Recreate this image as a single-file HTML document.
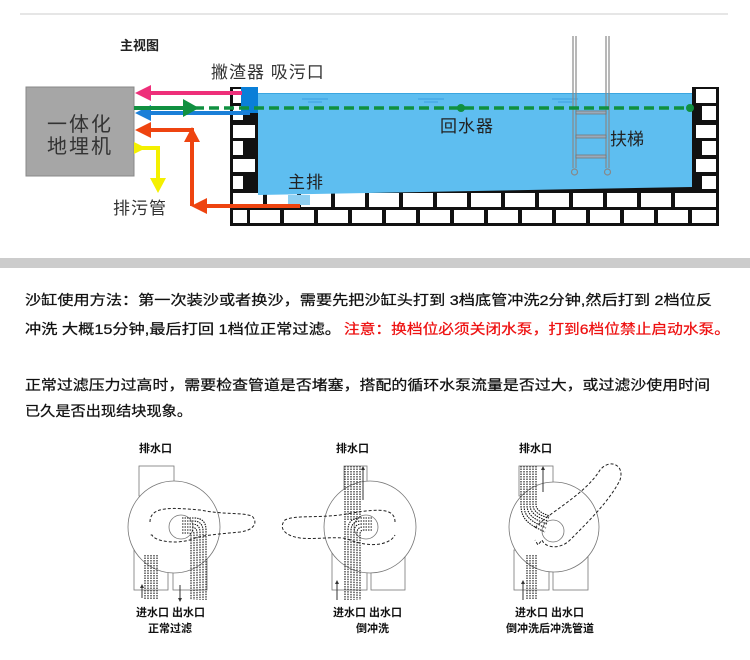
<!DOCTYPE html>
<html><head><meta charset="utf-8"><style>
html,body{margin:0;padding:0;background:#fff;}
svg{display:block;font-family:"Liberation Sans","Noto Sans CJK SC",sans-serif;}
</style></head><body>
<svg width="750" height="660" viewBox="0 0 750 660" xmlns="http://www.w3.org/2000/svg">
<defs>
<marker id="ah" viewBox="0 0 10 10" refX="5" refY="5" markerWidth="4" markerHeight="4" orient="auto"><path d="M0,0L10,5L0,10z" fill="#333"/></marker>
</defs>
<line x1="20" y1="14" x2="728" y2="14" stroke="#ccc" stroke-width="1"/>
<text x="120" y="50" font-size="13" font-weight="bold" fill="#222">主视图</text>
<text x="211" y="78" font-size="17" fill="#333" letter-spacing="1">撇渣器 吸污口</text>

<rect x="230" y="87" width="489" height="139" fill="#111"/>
<g fill="#fff">
<rect x="233" y="89" width="22" height="14"/><rect x="233" y="106" width="10" height="14"/>
<rect x="233" y="125" width="22" height="13"/><rect x="233" y="141" width="10" height="14"/>
<rect x="233" y="159" width="22" height="13"/><rect x="233" y="176" width="10" height="13"/>
<rect x="696" y="89" width="20" height="14"/><rect x="702" y="106" width="14" height="14"/>
<rect x="696" y="125" width="20" height="13"/><rect x="702" y="141" width="14" height="14"/>
<rect x="696" y="159" width="20" height="13"/><rect x="702" y="176" width="14" height="13"/>
</g>
<g fill="#fff">
<rect x="233" y="193" width="30" height="14"/><rect x="267" y="193" width="30" height="14"/><rect x="301" y="193" width="30" height="14"/><rect x="335" y="193" width="30" height="14"/><rect x="369" y="193" width="30" height="14"/><rect x="403" y="193" width="30" height="14"/><rect x="437" y="193" width="30" height="14"/><rect x="471" y="193" width="30" height="14"/><rect x="505" y="193" width="30" height="14"/><rect x="539" y="193" width="30" height="14"/><rect x="573" y="193" width="30" height="14"/><rect x="607" y="193" width="30" height="14"/><rect x="641" y="193" width="30" height="14"/><rect x="675" y="193" width="41" height="14"/>
<rect x="233" y="210" width="14" height="13"/><rect x="250" y="210" width="30" height="13"/><rect x="284" y="210" width="30" height="13"/><rect x="318" y="210" width="30" height="13"/><rect x="352" y="210" width="30" height="13"/><rect x="386" y="210" width="30" height="13"/><rect x="420" y="210" width="30" height="13"/><rect x="454" y="210" width="30" height="13"/><rect x="488" y="210" width="30" height="13"/><rect x="522" y="210" width="30" height="13"/><rect x="556" y="210" width="30" height="13"/><rect x="590" y="210" width="30" height="13"/><rect x="624" y="210" width="30" height="13"/><rect x="658" y="210" width="30" height="13"/><rect x="692" y="210" width="24" height="13"/>
</g>
<rect x="258" y="87" width="434" height="8" fill="#fff"/>
<polygon points="258,93 692,93 692,187 258,195" fill="#5ebef0"/>
<line x1="258" y1="93.5" x2="692" y2="93.5" stroke="#3aa6e0" stroke-width="1"/>
<rect x="288" y="195" width="22" height="10" fill="#8fd0f2"/>
<g stroke="#3a9ee0" stroke-width="1"><line x1="302" y1="99" x2="328" y2="99"/><line x1="308" y1="102" x2="322" y2="102"/><line x1="418" y1="99" x2="444" y2="99"/><line x1="424" y1="102" x2="438" y2="102"/><line x1="552" y1="99" x2="578" y2="99"/><line x1="558" y1="102" x2="572" y2="102"/></g>
<rect x="241" y="87" width="17" height="26" fill="#0a7fd8"/>
<g stroke="#888" stroke-width="1.2" fill="none">
<line x1="573" y1="36" x2="573" y2="168"/><line x1="576" y1="36" x2="576" y2="168"/>
<line x1="606" y1="36" x2="606" y2="168"/><line x1="609" y1="36" x2="609" y2="168"/>
<circle cx="574.5" cy="172" r="3"/><circle cx="607.5" cy="172" r="3"/>
</g>
<g stroke="#777" stroke-width="0.8" fill="#9ab"><rect x="576" y="111" width="30" height="3"/><rect x="576" y="135" width="30" height="3"/><rect x="576" y="155" width="30" height="3"/></g>
<text x="610" y="145" font-size="17" fill="#222">扶梯</text>
<text x="440" y="132" font-size="17" fill="#222" letter-spacing="1">回水器</text>
<text x="288" y="188" font-size="17" fill="#222" letter-spacing="1">主排</text>
<rect x="26" y="87" width="108" height="89" fill="#a6a6a6" stroke="#888" stroke-width="1"/>
<text x="80" y="131" font-size="20" fill="#333" text-anchor="middle" letter-spacing="2">一体化</text>
<text x="80" y="153" font-size="20" fill="#333" text-anchor="middle" letter-spacing="2">地埋机</text>
<line x1="148" y1="93" x2="242" y2="93" stroke="#ee2f7a" stroke-width="4"/>
<polygon points="135,93 151,85 151,101" fill="#ee2f7a"/>
<line x1="148" y1="113" x2="250" y2="113" stroke="#1a7fd8" stroke-width="4"/>
<polygon points="135,113 151,105 151,121" fill="#1a7fd8"/>
<line x1="134" y1="108" x2="692" y2="108" stroke="#109040" stroke-width="3.5" stroke-dasharray="10 5"/>
<line x1="134" y1="108" x2="190" y2="108" stroke="#109040" stroke-width="4"/>
<polygon points="199,108 183,99 183,117" fill="#109040"/>
<circle cx="461" cy="108" r="4" fill="#109040"/><circle cx="690" cy="108" r="4" fill="#109040"/>
<g fill="none" stroke="#ee4410" stroke-width="4"><polyline points="148,130 192,130 192,148"/><line x1="192" y1="140" x2="192" y2="206"/><line x1="204" y1="206" x2="300" y2="206"/></g>
<polygon points="135,130 151,122 151,138" fill="#ee4410"/>
<polygon points="192,127 184,142 200,142" fill="#ee4410"/>
<polygon points="191,206 207,198 207,214" fill="#ee4410"/>
<polyline points="134,148 158,148 158,182" fill="none" stroke="#f4f000" stroke-width="4"/>
<polygon points="158,193 150,178 166,178" fill="#f4f000"/>
<polygon points="146,148 134,142 134,154" fill="#f4f000"/>
<text x="113" y="214" font-size="17" fill="#333" letter-spacing="1">排污管</text>

<rect x="0" y="258" width="750" height="10" fill="#ccc"/>
<g font-size="14" fill="#111" stroke="#111" stroke-width="0.25">
<text x="25" y="305" textLength="687" lengthAdjust="spacingAndGlyphs">沙缸使用方法：第一次装沙或者换沙，需要先把沙缸头打到 3档底管冲洗2分钟,然后打到 2档位反</text>
<text x="25" y="334" textLength="316" lengthAdjust="spacingAndGlyphs">冲洗 大概15分钟,最后打回 1档位正常过滤。</text>
<text x="344" y="334" textLength="386" lengthAdjust="spacingAndGlyphs" fill="#ee1111" stroke="#ee1111">注意：换档位必须关闭水泵，打到6档位禁止启动水泵。</text>
<text x="25" y="390" textLength="685" lengthAdjust="spacingAndGlyphs">正常过滤压力过高时，需要检查管道是否堵塞，搭配的循环水泵流量是否过大，或过滤沙使用时间</text>
<text x="25" y="416" textLength="167" lengthAdjust="spacingAndGlyphs">已久是否出现结块现象。</text>
</g>

<g font-size="11" font-weight="bold" fill="#111">
<text x="139" y="452">排水口</text><text x="336" y="452">排水口</text><text x="519" y="452">排水口</text>
<text x="136" y="616">进水口 出水口</text><text x="333" y="616">进水口 出水口</text><text x="515" y="616">进水口 出水口</text>
<text x="148" y="632">正常过滤</text><text x="356" y="632">倒冲洗</text><text x="506" y="632">倒冲洗后冲洗管道</text>
</g>
<g fill="#fff" stroke="#777" stroke-width="0.8">
<rect x="139" y="466" width="35" height="30"/><rect x="134" y="550" width="34" height="40"/><rect x="173" y="550" width="34" height="40"/>
<circle cx="174" cy="527" r="46"/><circle cx="181" cy="527" r="12"/>
<rect x="344" y="466" width="23" height="30"/><rect x="332" y="550" width="35" height="40"/><rect x="371" y="550" width="34" height="40"/>
<circle cx="370" cy="527" r="46"/><circle cx="366" cy="527" r="12"/>
<rect x="519" y="466" width="34" height="30"/><rect x="514" y="550" width="35" height="40"/><rect x="553" y="550" width="35" height="40"/>
<circle cx="554" cy="527" r="45"/><circle cx="553" cy="531" r="11"/>
</g>
<g fill="none" stroke="#222" stroke-width="1" stroke-dasharray="3 2">
<path d="M150,522 C150,505 175,508 200,510 C225,515 240,512 252,516 C258,522 255,530 240,532 C220,534 205,535 195,538 C180,545 155,542 152,535 L150,535"/>
<path d="M395,522 C395,505 370,510 340,515 C315,518 295,515 285,520 C278,528 285,536 300,538 C320,540 340,535 350,540 C370,548 390,545 395,535"/>
<path d="M535,528 C545,515 585,495 600,470 C610,458 625,465 620,480 C610,500 590,520 570,540 C560,550 545,548 542,540 L538,545 L535,540"/>
</g>
<g fill="none" stroke="#111" stroke-width="1.1" stroke-dasharray="1.5 1">
<path d="M182,518 L194,518 Q206,518 206,530 L206,600"/>
<path d="M182,521 L193,521 Q203,521 203,531 L203,600"/>
<path d="M182,524 L192,524 Q200,524 200,532 L200,600"/>
<path d="M182,527 L191,527 Q197,527 197,533 L197,600"/>
<path d="M182,530 L190,530 Q194,530 194,534 L194,600"/>
<path d="M182,533 L189,533 Q191,533 191,535 L191,600"/>
<line x1="145" y1="555" x2="145" y2="600"/><line x1="148" y1="555" x2="148" y2="600"/><line x1="151" y1="555" x2="151" y2="600"/><line x1="154" y1="555" x2="154" y2="600"/><line x1="157" y1="555" x2="157" y2="600"/>
<path d="M372,518 L360,518 Q348,518 348,530 L348,600"/>
<path d="M372,521 L361,521 Q351,521 351,531 L351,600"/>
<path d="M372,524 L362,524 Q354,524 354,532 L354,600"/>
<path d="M372,527 L363,527 Q357,527 357,533 L357,600"/>
<path d="M372,530 L364,530 Q360,530 360,534 L360,600"/>
<line x1="345" y1="466" x2="345" y2="600"/><line x1="348" y1="466" x2="348" y2="520"/><line x1="351" y1="466" x2="351" y2="520"/><line x1="354" y1="466" x2="354" y2="520"/><line x1="357" y1="466" x2="357" y2="520"/><line x1="360" y1="466" x2="360" y2="518"/>
<path d="M521,466 L521,505 C521,520 530,525 545,532"/><path d="M524,466 L524,505 C524,518 533,522 546,528"/><path d="M527,466 L527,505 C527,516 536,520 547,524"/><path d="M530,466 L530,505 C530,514 539,518 548,521"/><path d="M533,466 L533,505 C533,512 541,516 549,518"/><path d="M536,466 L536,505 C536,510 543,514 550,516"/>
<line x1="527" y1="555" x2="527" y2="600"/><line x1="530" y1="555" x2="530" y2="600"/><line x1="533" y1="555" x2="533" y2="600"/><line x1="536" y1="555" x2="536" y2="600"/>
</g>
<g stroke="#333" stroke-width="1" marker-end="url(#ah)">
<line x1="142" y1="598" x2="142" y2="586"/><line x1="180" y1="585" x2="180" y2="600"/>
<line x1="337" y1="600" x2="337" y2="582"/><line x1="363" y1="500" x2="363" y2="468"/>
<line x1="523" y1="600" x2="523" y2="582"/><line x1="543" y1="492" x2="543" y2="468"/>
</g>
</svg>
</body></html>
